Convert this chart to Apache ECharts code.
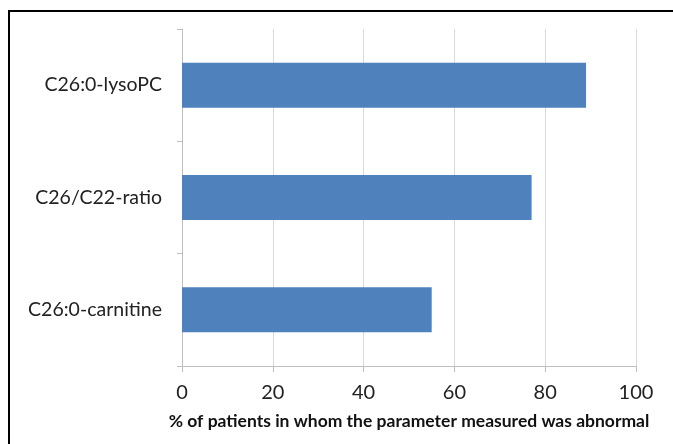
<!DOCTYPE html>
<html>
<head>
<meta charset="utf-8">
<script src="https://cdn.jsdelivr.net/npm/echarts@6/dist/echarts.min.js"></script>
<style>
  html, body { margin: 0; padding: 0; background: #fff; }
  #chart { width: 673px; height: 444px; }
  #frame {
    position: absolute;
    left: 8px;
    top: 10px;
    width: 680px;
    height: 460px;
    border: 2px solid #000;
    pointer-events: none;
  }
</style>
</head>
<body>
<div id="chart"></div>
<div id="frame"></div>
<script>
const categories = ['C26:0-lysoPC', 'C26/C22-ratio', 'C26:0-carnitine']
const abnormalPercent = [89, 77, 55]
const axisTitle = '% of patients in whom the parameter measured was abnormal'

const chart = echarts.init(document.getElementById('chart'), null, { renderer: 'canvas' })

chart.setOption({
  animation: false,
  backgroundColor: '#fff',
  textStyle: { fontFamily: 'Lato' },
  grid: { left: 182, right: 37, top: 29, bottom: 78 },
  xAxis: {
    type: 'value',
    min: 0,
    max: 100,
    interval: 20,
    name: axisTitle,
    nameLocation: 'middle',
    nameGap: 46,
    nameTextStyle: { fontSize: 17.5, fontWeight: 'bold', color: '#111' },
    axisLine: { show: true, lineStyle: { color: '#bfbfbf', width: 1 } },
    axisTick: { show: true, length: 6, lineStyle: { color: '#bfbfbf' } },
    axisLabel: { fontSize: 20, color: '#222', margin: 17 },
    splitLine: { show: true, lineStyle: { color: '#d9d9d9', width: 1 } },
  },
  yAxis: {
    type: 'category',
    data: categories,
    inverse: true,
    axisLine: { show: true, lineStyle: { color: '#bfbfbf', width: 1 } },
    axisTick: { show: true, length: 5, lineStyle: { color: '#bfbfbf' } },
    axisLabel: { fontSize: 19.5, color: '#222', margin: 20 },
    splitLine: { show: false },
  },
  series: [
    {
      type: 'bar',
      data: abnormalPercent,
      barWidth: 45,
      itemStyle: { color: '#4f81bd' },
    },
  ],
})
</script>
</body>
</html>
